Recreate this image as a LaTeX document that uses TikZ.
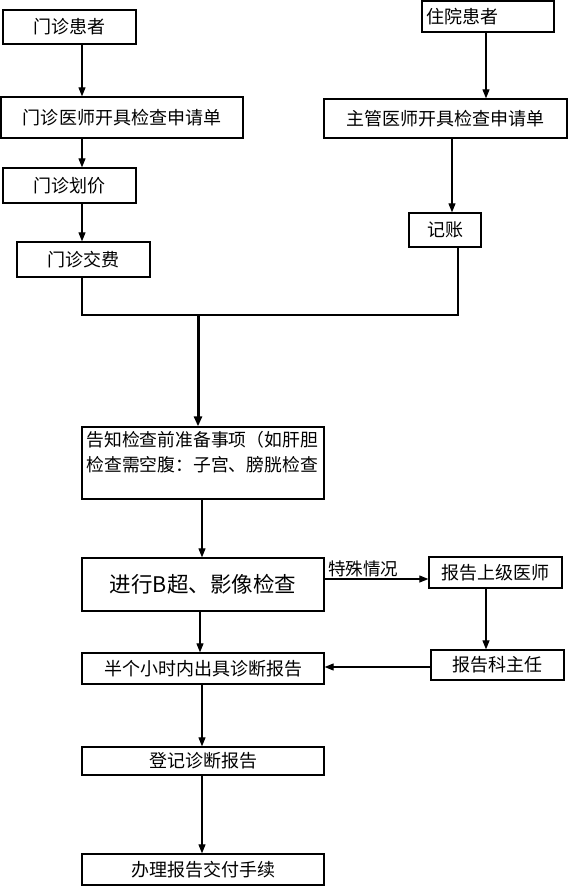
\documentclass[tikz,border=0pt]{standalone}
\usepackage{fontspec}
\setmainfont{Noto Sans CJK SC}
\usetikzlibrary{arrows.meta}
\begin{document}
\begin{tikzpicture}[x=1pt,y=-1pt,
  box/.style={draw=black,line width=1.3pt,inner sep=0pt,fill=white,font=\fontsize{18}{21}\selectfont},
  arr/.style={line width=1.1pt,-{Triangle[length=9pt,width=7pt]}},
  ln/.style={line width=1.1pt}]
\useasboundingbox[fill=white] (0,0) rectangle (568,886);
% boxes
\node[box,minimum width=133,minimum height=34] (b1) at (69.5,27) {门诊患者};
\node[box,minimum width=242,minimum height=41] (b2) at (122,117.5) {门诊医师开具检查申请单};
\node[box,minimum width=133,minimum height=35] (b3) at (69.5,185.5) {门诊划价};
\node[box,minimum width=133,minimum height=35] (b4) at (83.5,259.5) {门诊交费};
\node[box,text width=124,inner xsep=4pt,align=left,minimum height=31] (b5) at (488,16.5) {住院患者};
\node[box,minimum width=243,minimum height=39] (b6) at (445.5,118.5) {主管医师开具检查申请单};
\node[box,minimum width=72,minimum height=34] (b7) at (445,230) {记账};
\node[box,minimum width=242,minimum height=72] (b8) at (203,463) {};
\node[anchor=north west,align=left,inner sep=0pt,font=\fontsize{17.8}{25}\selectfont,xshift=5pt,yshift=-5pt] (b8t) at (b8.north west) {告知检查前准备事项（如肝胆\\检查需空腹：子宫、膀胱检查};
\node[box,minimum width=242,minimum height=53,font=\fontsize{21.5}{24}\selectfont] (b9) at (203,584.5) {进行B超、影像检查};
\node[box,minimum width=133,minimum height=31] (b10) at (495.5,572.5) {报告上级医师};
\node[box,minimum width=133,minimum height=30] (b11) at (497.5,665) {报告科主任};
\node[box,minimum width=242,minimum height=31] (b12) at (203,668.5) {半个小时内出具诊断报告};
\node[box,minimum width=242,minimum height=28] (b13) at (203,761) {登记诊断报告};
\node[box,minimum width=242,minimum height=31] (b14) at (203,869.5) {办理报告交付手续};
% helper coordinates
\coordinate (ax) at (82,0);
\coordinate (bx) at (458,0);
\coordinate (jy) at (0,315);
\coordinate (tx) at (198,0);
\coordinate (mx) at (202,0);
\coordinate (m2) at (200,0);
\coordinate (cx) at (486,0);
\coordinate (dx) at (452,0);
\coordinate (ey) at (0,579);
\coordinate (fy) at (0,667);
% connectors
\draw[arr] (b1.south -| ax) -- (b2.north -| ax);
\draw[arr] (b2.south -| ax) -- (b3.north -| ax);
\draw[arr] (b3.south -| ax) -- (b4.north -| ax);
\draw[arr] (b5.south -| cx) -- (b6.north -| cx);
\draw[arr] (b6.south -| dx) -- (b7.north -| dx);
\draw[ln] (b4.south -| ax) -- (ax |- jy) -- (bx |- jy) -- (b7.south -| bx);
\coordinate (j) at (tx |- jy);
\draw[line width=3pt,-{Triangle[length=10pt,width=8pt]}] (j) -- (b8.north -| tx);
\draw[arr] (b8.south -| mx) -- (b9.north -| mx);
\draw[arr] (b9.east |- ey) -- node[pos=0.02,anchor=south west,inner sep=1pt,font=\fontsize{17.5}{20}\selectfont] (lab) {特殊情况} (b10.west |- ey);
\draw[arr] (b10.south -| cx) -- (b11.north -| cx);
\draw[arr] (b9.south -| m2) -- (b12.north -| m2);
\draw[arr] (b11.west |- fy) -- (b12.east |- fy);
\draw[arr] (b12.south -| mx) -- (b13.north -| mx);
\draw[arr] (b13.south -| mx) -- (b14.north -| mx);
\end{tikzpicture}
\end{document}
